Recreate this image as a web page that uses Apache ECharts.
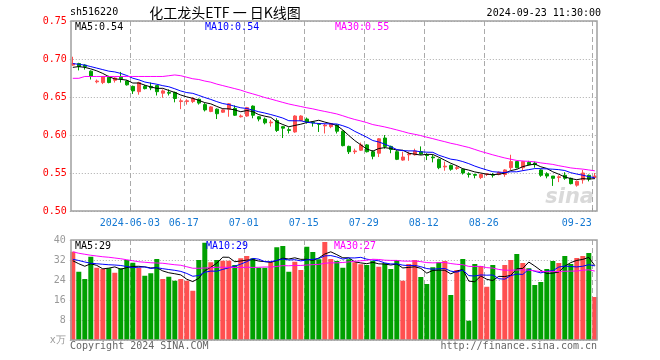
<!DOCTYPE html>
<html><head><meta charset="utf-8">
<script src="https://cdn.jsdelivr.net/npm/echarts@6/dist/echarts.min.js"></script>
<style>html,body{margin:0;padding:0;background:#fff}#c{width:660px;height:360px}</style>
</head><body><div id="c"></div>
<script>
// ---- data ----
const dates = [
'2024-05-20','2024-05-21','2024-05-22','2024-05-23','2024-05-24','2024-05-27','2024-05-28','2024-05-29','2024-05-30','2024-05-31',
'2024-06-03','2024-06-04','2024-06-05','2024-06-06','2024-06-07','2024-06-11','2024-06-12','2024-06-13','2024-06-14',
'2024-06-17','2024-06-18','2024-06-19','2024-06-20','2024-06-21','2024-06-24','2024-06-25','2024-06-26','2024-06-27','2024-06-28',
'2024-07-01','2024-07-02','2024-07-03','2024-07-04','2024-07-05','2024-07-08','2024-07-09','2024-07-10','2024-07-11','2024-07-12',
'2024-07-15','2024-07-16','2024-07-17','2024-07-18','2024-07-19','2024-07-22','2024-07-23','2024-07-24','2024-07-25','2024-07-26',
'2024-07-29','2024-07-30','2024-07-31','2024-08-01','2024-08-02','2024-08-05','2024-08-06','2024-08-07','2024-08-08','2024-08-09',
'2024-08-12','2024-08-13','2024-08-14','2024-08-15','2024-08-16','2024-08-19','2024-08-20','2024-08-21','2024-08-22','2024-08-23',
'2024-08-26','2024-08-27','2024-08-28','2024-08-29','2024-08-30','2024-09-02','2024-09-03','2024-09-04','2024-09-05','2024-09-06',
'2024-09-09','2024-09-10','2024-09-11','2024-09-12','2024-09-13','2024-09-18','2024-09-19','2024-09-20','2024-09-23'];
const opens = [0.692,0.694,0.692,0.684,0.670,0.669,0.676,0.672,0.676,0.671,
0.664,0.657,0.664,0.664,0.665,0.655,0.656,0.656,0.644,0.644,
0.644,0.647,0.640,0.631,0.634,0.630,0.634,0.635,0.624,0.625,
0.638,0.624,0.621,0.616,0.619,0.611,0.607,0.604,0.619,0.621,
0.617,0.615,0.612,0.611,0.613,0.605,0.585,0.578,0.580,0.587,
0.578,0.576,0.596,0.585,0.578,0.567,0.574,0.574,0.578,0.574,
0.571,0.568,0.558,0.560,0.556,0.555,0.549,0.548,0.544,0.548,
0.548,0.548,0.548,0.557,0.565,0.557,0.564,0.563,0.554,0.549,
0.546,0.544,0.547,0.543,0.534,0.541,0.547,0.544];
const closes = [0.694,0.690,0.690,0.677,0.671,0.677,0.669,0.675,0.674,0.666,
0.658,0.669,0.661,0.662,0.657,0.658,0.655,0.648,0.645,0.645,
0.648,0.642,0.633,0.637,0.628,0.633,0.641,0.626,0.625,0.636,
0.626,0.621,0.616,0.617,0.606,0.609,0.606,0.625,0.625,0.617,
0.616,0.614,0.613,0.615,0.605,0.586,0.578,0.579,0.587,0.578,
0.572,0.595,0.585,0.581,0.568,0.571,0.575,0.579,0.575,0.573,
0.570,0.557,0.559,0.555,0.557,0.550,0.548,0.547,0.548,0.549,
0.547,0.551,0.554,0.565,0.557,0.565,0.561,0.561,0.547,0.546,
0.543,0.545,0.543,0.536,0.539,0.550,0.542,0.546];
const highs = [0.703,0.695,0.693,0.685,0.673,0.677,0.678,0.676,0.683,0.672,
0.665,0.670,0.666,0.669,0.666,0.660,0.660,0.657,0.648,0.647,
0.650,0.648,0.642,0.638,0.635,0.634,0.642,0.639,0.627,0.637,
0.639,0.625,0.623,0.620,0.622,0.612,0.610,0.626,0.626,0.623,
0.618,0.615,0.615,0.616,0.614,0.606,0.586,0.582,0.590,0.588,
0.580,0.596,0.600,0.586,0.580,0.578,0.578,0.582,0.585,0.576,
0.574,0.569,0.565,0.561,0.560,0.556,0.551,0.549,0.549,0.550,
0.550,0.552,0.555,0.574,0.566,0.566,0.566,0.565,0.555,0.551,
0.546,0.547,0.551,0.544,0.540,0.554,0.548,0.550];
const lows = [0.691,0.685,0.686,0.673,0.668,0.667,0.668,0.669,0.669,0.665,
0.654,0.653,0.660,0.659,0.652,0.649,0.652,0.643,0.634,0.640,
0.642,0.640,0.631,0.630,0.621,0.629,0.624,0.625,0.623,0.624,
0.622,0.618,0.614,0.611,0.604,0.596,0.602,0.603,0.618,0.615,
0.611,0.604,0.602,0.609,0.602,0.585,0.575,0.575,0.579,0.577,
0.568,0.571,0.582,0.576,0.567,0.566,0.566,0.573,0.574,0.567,
0.564,0.555,0.553,0.553,0.554,0.548,0.544,0.543,0.542,0.546,
0.544,0.547,0.545,0.554,0.556,0.553,0.560,0.557,0.545,0.543,
0.533,0.538,0.541,0.535,0.532,0.536,0.539,0.542];
// volume, unit: 10k lots (x万)
const volumes = [35.3,27.3,24.4,33.3,28.9,28.4,28.7,26.9,28.7,32.0,
30.9,28.9,25.7,26.7,32.4,24.4,25.3,23.7,24.4,23.7,
19.7,32.0,38.9,31.1,32.0,31.7,31.7,30.0,32.7,33.6,
32.7,28.9,28.9,31.1,37.1,37.6,27.3,31.3,28.0,37.3,
35.2,32.3,39.2,32.4,31.6,28.9,32.3,31.1,30.3,30.0,
31.6,29.3,30.7,28.4,32.0,23.7,30.4,32.0,25.2,22.4,
29.1,31.1,31.6,18.0,28.0,32.4,7.7,30.4,29.6,21.3,
30.0,16.0,30.0,32.0,34.4,30.8,28.7,22.0,23.2,28.4,
31.6,30.8,33.6,30.4,32.8,33.6,34.8,17.2];
// moving-average values at the left edge (history before the window)
const ma5Lead = [0.689,0.690,0.689,0.687];
const ma10Lead = [0.694,0.693,0.692,0.690,0.688,0.686,0.684,0.683,0.681];
const ma30Lead = [0.6746,0.6746,0.677,0.677,0.677,0.677,0.677,0.677,0.677,0.677,0.677,0.677,0.677,0.677,0.677,0.677,
0.678,0.679,0.678,0.676,0.674,0.673,0.671,0.6695,0.667,0.665,0.663,0.661,0.659];
const vma5Lead = [31.7,30.5,29.5,30.5];
const vma10Lead = [32.3,31.8,31.2,30.7,30.5,30.3,30.1,30.0,29.8];
const vma30Lead = [35.3,34.7,34.3,33.9,33.6,33.3,33.1,32.8,32.5,32.1,31.7,31.3,31.1,30.9,30.8,30.7,30.4,30.1,29.9,29.3,
28.7,28.7,28.8,28.9,29.1,29.1,29.1,29.0,29.0];
const tickDates = ['2024-06-03','2024-06-17','2024-07-01','2024-07-15','2024-07-29','2024-08-12','2024-08-26','2024-09-23'];
const tickLabels = ['2024-06-03','06-17','07-01','07-15','07-29','08-12','08-26','09-23'];
const priceLegend = ['MA5:0.54','MA10:0.54','MA30:0.55'];
const volLegend = ['MA5:29','MA10:29','MA30:27'];

// ---- chart ----
const RED = '#ff5050', GREEN = '#00a000';
const MONO = 'DejaVu Sans Mono';
function movingAvg(vals, n, lead){
  return vals.map((v,i)=>{
    if(i < n-1) return lead[i];
    let s=0; for(let k=i-n+1;k<=i;k++) s+=vals[k];
    return +(s/n).toFixed(4);
  });
}
const candleData = dates.map((d,i)=>[opens[i], closes[i], lows[i], highs[i]]);
const volData = volumes.map((v,i)=>({value:v, itemStyle:{color: closes[i]>=opens[i]?RED:GREEN}}));
const gridDates = dates.concat(['']);
const isTick = (idx) => tickDates.indexOf(gridDates[idx]) >= 0;
const GL = 69.8, GW = 528;
const gridLineStyle = {color:'#aaaaaa', type:[5,3], width:1};

const chart = echarts.init(document.getElementById('c'), null, {renderer:'canvas', width:660, height:360});
const lineS = (name, data, color, xi, yi) => ({
  name, type:'line', data, xAxisIndex:xi, yAxisIndex:yi, showSymbol:false, symbol:'none',
  lineStyle:{color, width:1}, itemStyle:{color}, silent:true, z:5, animation:false
});
const option = {
  animation:false,
  backgroundColor:'#ffffff',
  grid:[
    {left:GL, top:21, width:GW, height:190, containLabel:false, outerBoundsMode:'none'},
    {left:GL, top:240, width:GW, height:100, containLabel:false, outerBoundsMode:'none'}
  ],
  xAxis:[
    {type:'category', gridIndex:0, data:dates, boundaryGap:true, show:false},
    {type:'category', gridIndex:0, data:gridDates, boundaryGap:false, position:'bottom',
      axisLine:{show:false},
      axisTick:{show:true, inside:true, length:3, interval:isTick, lineStyle:{color:'#999'}},
      axisLabel:{show:true, interval:isTick, color:'#1478d2', fontFamily:MONO, fontSize:10, margin:7,
        formatter:(v)=>{ const k=tickDates.indexOf(v); if(k<0) return ''; return k===tickDates.length-1 ? '{r|'+tickLabels[k]+'}' : tickLabels[k]; },
        rich:{r:{color:'#1478d2', fontFamily:MONO, fontSize:10, padding:[0,30,0,0]}}},
      splitLine:{show:true, interval:isTick, lineStyle:gridLineStyle}},
    {type:'category', gridIndex:1, data:dates, boundaryGap:true, show:false},
    {type:'category', gridIndex:1, data:gridDates, boundaryGap:false, position:'bottom',
      axisLine:{show:false}, axisTick:{show:false}, axisLabel:{show:false},
      splitLine:{show:true, interval:isTick, lineStyle:gridLineStyle}}
  ],
  yAxis:[
    {type:'value', gridIndex:0, min:0.5, max:0.75, interval:0.05,
      axisLine:{show:false}, axisTick:{show:false},
      axisLabel:{color:'#ff0000', fontFamily:MONO, fontSize:10, margin:3, formatter:(v)=>v.toFixed(2)},
      splitLine:{show:true, lineStyle:{color:'#aaaaaa', type:[1,2], width:1}}},
    {type:'value', gridIndex:1, min:0, max:40, interval:8,
      axisLine:{show:false}, axisTick:{show:false},
      axisLabel:{color:'#999999', fontFamily:MONO, fontSize:10, margin:4, formatter:(v)=> v===0 ? 'x万' : String(v)},
      splitLine:{show:true, lineStyle:{color:'#aaaaaa', type:[1,2], width:1}}}
  ],
  series:[
    {type:'candlestick', xAxisIndex:0, yAxisIndex:0, data:candleData, barWidth:4, silent:true, clip:false,
      itemStyle:{color:RED, color0:GREEN, borderColor:RED, borderColor0:GREEN, borderWidth:1}, z:3},
    lineS('MA5', movingAvg(closes,5,ma5Lead), '#000000', 0, 0),
    lineS('MA10', movingAvg(closes,10,ma10Lead), '#0000ff', 0, 0),
    lineS('MA30', movingAvg(closes,30,ma30Lead), '#ff00ff', 0, 0),
    {type:'bar', xAxisIndex:2, yAxisIndex:1, data:volData, barWidth:5, silent:true, z:3},
    lineS('VMA5', movingAvg(volumes,5,vma5Lead), '#000000', 2, 1),
    lineS('VMA10', movingAvg(volumes,10,vma10Lead), '#0000ff', 2, 1),
    lineS('VMA30', movingAvg(volumes,30,vma30Lead), '#ff00ff', 2, 1)
  ],
  graphic:[
    {type:'rect', silent:true, z:100, shape:{x:71, y:21, width:526, height:190}, style:{fill:'none', stroke:'#a0a0a0', lineWidth:1.5}},
    {type:'rect', silent:true, z:100, shape:{x:71, y:240, width:526, height:100}, style:{fill:'none', stroke:'#a0a0a0', lineWidth:1.5}},
    {type:'text', silent:true, z:100, left:70, top:7, style:{text:'sh516220', fill:'#000', font:'10px "'+MONO+'"'}},
    {type:'text', silent:true, z:100, x:225, y:13, style:{text:'化工龙头ETF 一 日K线图', fill:'#000', font:'14px "Noto Sans CJK SC"', textAlign:'center', textVerticalAlign:'middle'}},
    {type:'text', silent:true, z:100, x:601, y:13, style:{text:'2024-09-23 11:30:00', fill:'#000', font:'10px "'+MONO+'"', textAlign:'right', textVerticalAlign:'middle'}},
    {type:'text', silent:true, z:100, x:75, y:27, style:{text:priceLegend[0], fill:'#000000', font:'10px "'+MONO+'"', textVerticalAlign:'middle'}},
    {type:'text', silent:true, z:100, x:205, y:27, style:{text:priceLegend[1], fill:'#0000ff', font:'10px "'+MONO+'"', textVerticalAlign:'middle'}},
    {type:'text', silent:true, z:100, x:335, y:27, style:{text:priceLegend[2], fill:'#ff00ff', font:'10px "'+MONO+'"', textVerticalAlign:'middle'}},
    {type:'text', silent:true, z:100, x:75, y:246, style:{text:volLegend[0], fill:'#000000', font:'10px "'+MONO+'"', textVerticalAlign:'middle'}},
    {type:'text', silent:true, z:100, x:206, y:246, style:{text:volLegend[1], fill:'#0000ff', font:'10px "'+MONO+'"', textVerticalAlign:'middle'}},
    {type:'text', silent:true, z:100, x:334, y:246, style:{text:volLegend[2], fill:'#ff00ff', font:'10px "'+MONO+'"', textVerticalAlign:'middle'}},
    {type:'text', silent:true, z:100, x:70, y:346, style:{text:'Copyright 2024 SINA.COM', fill:'#666666', font:'10px "'+MONO+'"', textVerticalAlign:'middle'}},
    {type:'text', silent:true, z:100, x:597, y:346, style:{text:'http://finance.sina.com.cn', fill:'#666666', font:'10px "'+MONO+'"', textAlign:'right', textVerticalAlign:'middle'}},
    {type:'text', silent:true, z:90, x:594, y:198, style:{text:'sina', fill:'rgba(185,185,185,0.55)', font:'italic bold 21px "DejaVu Sans"', textAlign:'right', textVerticalAlign:'middle'}}
  ]
};
chart.setOption(option);
</script>
</body></html>
